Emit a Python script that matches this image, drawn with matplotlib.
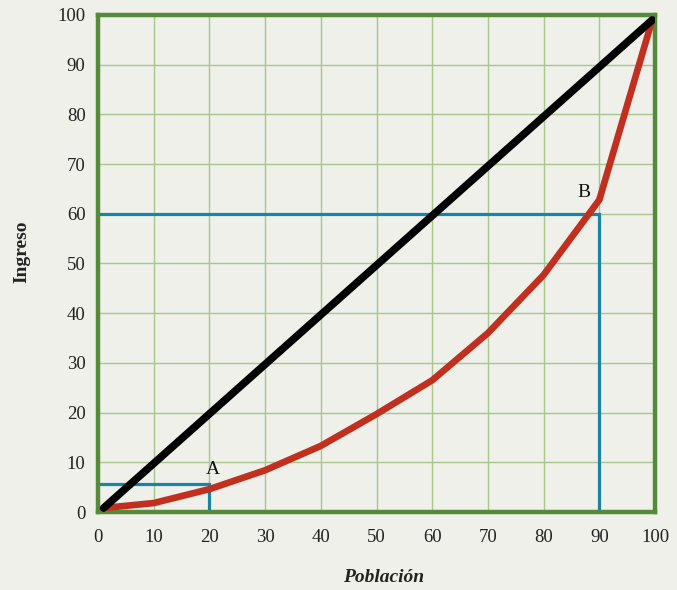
import matplotlib
matplotlib.use('Agg')
from matplotlib import pyplot as plt

# Lorenz curve data (Población %, Ingreso %)
poblacion = [1, 10, 20, 30, 40, 50, 60, 70, 80, 90, 99.5]
ingreso = [0.8, 1.8, 4.6, 8.4, 13.3, 19.7, 26.5, 36, 47.7, 62.8, 99]
igualdad_x = [1, 99.5]
igualdad_y = [0.8, 99]

# reference points A and B
punto_a = (20, 5.6)
punto_b = (90, 60)
ticks = [0, 10, 20, 30, 40, 50, 60, 70, 80, 90, 100]

bg = '#eef0e9'
green = '#568a3a'
grid_green = '#a9c690'
blue = '#1983a8'
red = '#c22f1e'

plt.rcParams['font.family'] = ['Liberation Serif', 'DejaVu Serif']

fig = plt.figure(figsize=(6.77, 5.9), dpi=100, facecolor=bg)
ax = fig.add_axes([0.1448, 0.1322, 0.8227, 0.8424])
ax.set_facecolor(bg)

ax.set_xlim(0, 100)
ax.set_ylim(0, 100)
ax.set_xticks(ticks)
ax.set_yticks(ticks)
ax.grid(True, color=grid_green, linewidth=1.0)
ax.set_axisbelow(True)
ax.tick_params(length=0, labelsize=13.5, colors='#222222')
ax.tick_params(axis='x', pad=12)
ax.tick_params(axis='y', pad=9)

for s in ax.spines.values():
    s.set_color(green)
    s.set_linewidth(3.2)

# blue guide lines
ax.plot([0, punto_a[0], punto_a[0]], [punto_a[1], punto_a[1], 0], color=blue, lw=2.3, solid_joinstyle='miter')
ax.plot([0, punto_b[0], punto_b[0]], [punto_b[1], punto_b[1], 0], color=blue, lw=2.3, solid_joinstyle='miter')

# equality line and lorenz curve
ax.plot(igualdad_x, igualdad_y, color='black', lw=5.5, solid_capstyle='round', zorder=4)
ax.plot(poblacion, ingreso, color=red, lw=4.8, solid_capstyle='round', zorder=3)

ax.text(20.7, 6.8, 'A', fontsize=14, color='#111111', ha='center', va='bottom', zorder=5)
ax.text(87.3, 62.5, 'B', fontsize=14, color='#111111', ha='center', va='bottom', zorder=5)

ax.set_xlabel('Población', fontsize=14, fontweight='bold', style='italic', color='#222222')
ax.set_ylabel('Ingreso', fontsize=14, fontweight='bold', color='#222222')
ax.xaxis.set_label_coords(0.512, -0.114)
ax.yaxis.set_label_coords(-0.122, 0.523)

plt.savefig('out.png', dpi=100, facecolor=bg)
